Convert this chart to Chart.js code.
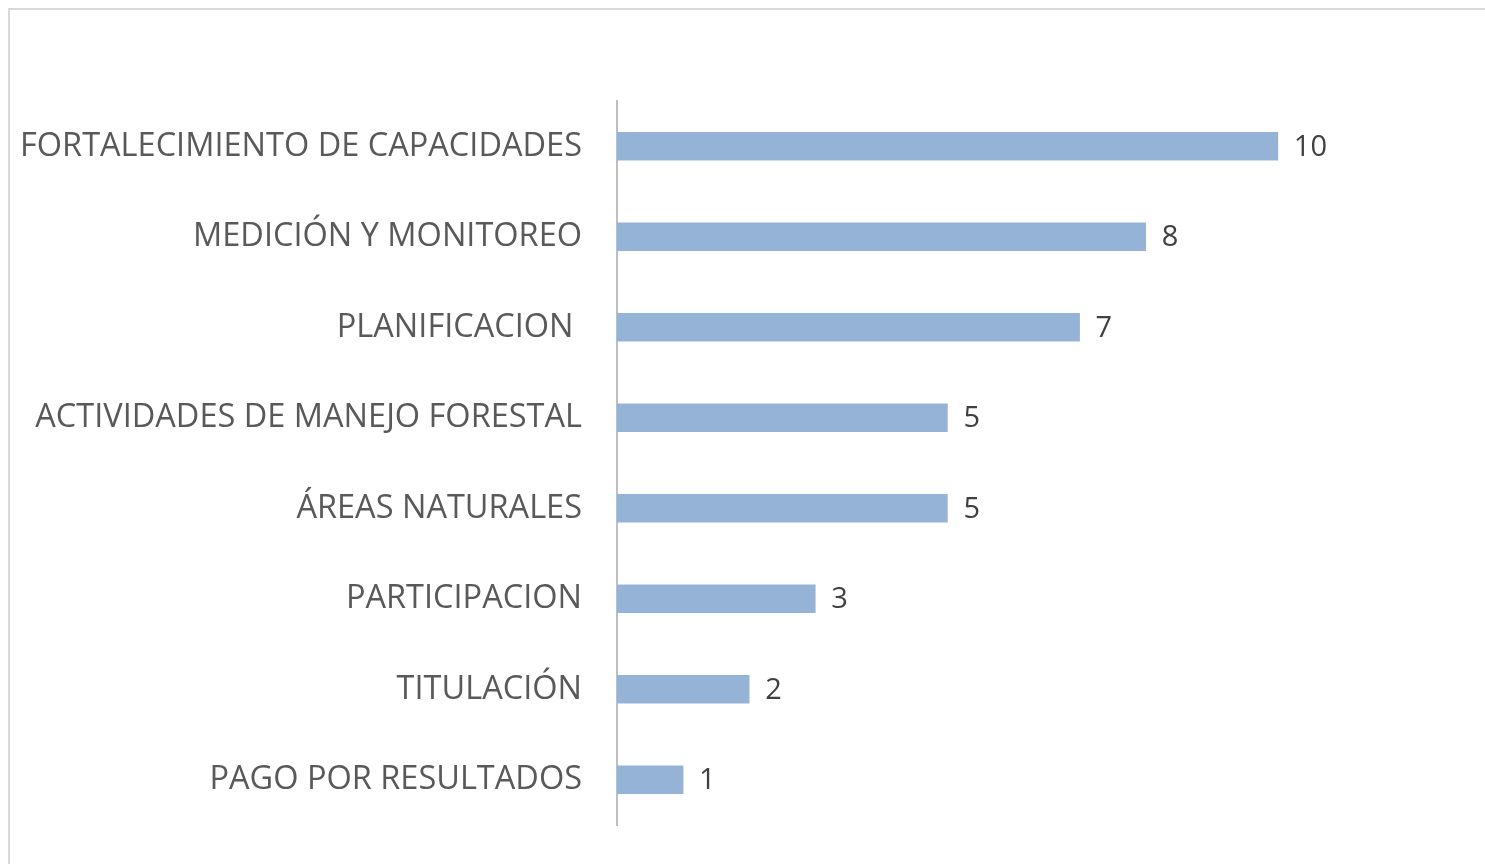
<!DOCTYPE html>
<html>
<head>
<meta charset="utf-8">
<script src="https://cdn.jsdelivr.net/npm/chart.js@4.4.1/dist/chart.umd.min.js"></script>
<style>
  html, body { margin: 0; padding: 0; background: #ffffff; overflow: hidden; }
  #frame { position: absolute; left: 8px; top: 8px; width: 2000px; height: 2000px; border: 2px solid #d9d9d9; box-sizing: border-box; }
  #wrap { position: absolute; left: 0; top: 0; width: 1485px; height: 864px; }
</style>
</head>
<body>
<div id="frame"></div>
<div id="wrap"><canvas id="c" width="1485" height="864"></canvas></div>
<script>
const categories = [
  "FORTALECIMIENTO DE CAPACIDADES",
  "MEDICIÓN Y MONITOREO",
  "PLANIFICACION ",
  "ACTIVIDADES DE MANEJO FORESTAL",
  "ÁREAS NATURALES",
  "PARTICIPACION",
  "TITULACIÓN",
  "PAGO POR RESULTADOS"
];
const values = [10, 8, 7, 5, 5, 3, 2, 1];

const FONT = "'Open Sans', 'DejaVu Sans', sans-serif";

const valueLabels = {
  id: 'valueLabels',
  afterDatasetsDraw(chart) {
    const ctx = chart.ctx;
    const meta = chart.getDatasetMeta(0);
    ctx.save();
    ctx.font = "29px " + FONT;
    ctx.fillStyle = '#404040';
    ctx.textAlign = 'left';
    ctx.textBaseline = 'middle';
    meta.data.forEach((bar, i) => {
      ctx.fillText(String(values[i]), bar.x + 16, bar.y + 1);
    });
    ctx.restore();
  }
};

new Chart(document.getElementById('c'), {
  type: 'bar',
  data: {
    labels: categories,
    datasets: [{
      data: values,
      backgroundColor: '#95b3d7',
      borderWidth: 0,
      barThickness: 28
    }]
  },
  options: {
    indexAxis: 'y',
    responsive: false,
    animation: false,
    layout: { padding: { top: 101, bottom: 39, left: 0, right: 75 } },
    plugins: { legend: { display: false }, tooltip: { enabled: false } },
    scales: {
      x: {
        display: false,
        min: 0,
        max: 12
      },
      y: {
        grid: { display: false, drawTicks: true, tickLength: 35, tickColor: 'rgba(0,0,0,0)' },
        border: { display: true, color: '#bfbfbf', width: 2 },
        ticks: {
          padding: 0,
          color: '#595959',
          font: { size: 32.5, family: FONT }
        },
        afterFit(scale) { scale.width = 617; }
      }
    }
  },
  plugins: [valueLabels]
});
</script>
</body>
</html>
